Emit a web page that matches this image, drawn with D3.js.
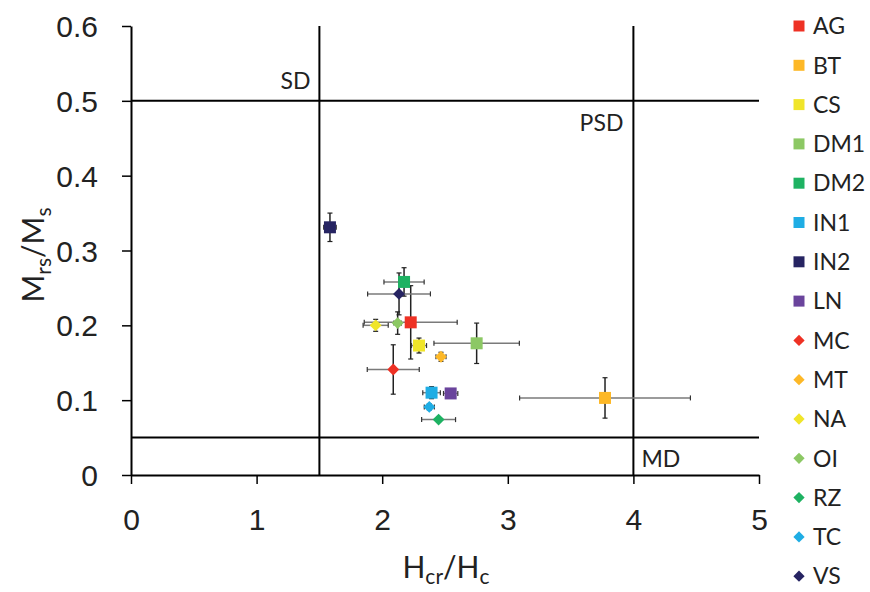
<!DOCTYPE html>
<html>
<head>
<meta charset="utf-8">
<script src="https://cdn.jsdelivr.net/npm/d3@7"></script>
<style>
  body { margin: 0; background: #fff; }
  svg { font-family: Lato, "Open Sans", sans-serif; }
</style>
</head>
<body>
<div id="chart"></div>
<script>
// samples, in legend order
const names   = ["AG", "BT", "CS", "DM1", "DM2", "IN1", "IN2", "LN", "MC", "MT", "NA", "OI", "RZ", "TC", "VS"];
const shapes  = ["square", "square", "square", "square", "square", "square", "square", "square",
                 "diamond", "diamond", "diamond", "diamond", "diamond", "diamond", "diamond"];
const colors  = ["#ee3124", "#fdb827", "#f0e52a", "#8cc864", "#1eb262", "#1fade4", "#262462", "#6a449c",
                 "#ee3124", "#fdb827", "#f0e52a", "#8cc864", "#1eb262", "#1fade4", "#262462"];
const hcrHc   = [2.227, 3.774, 2.293, 2.752, 2.174, 2.393, 1.584, 2.545, 2.088, 2.468, 1.948, 2.123, 2.449, 2.375, 2.134];
const mrsMs   = [0.204, 0.103, 0.173, 0.176, 0.258, 0.110, 0.331, 0.109, 0.141, 0.158, 0.200, 0.203, 0.074, 0.091, 0.242];
const hcrErr  = [0.37, 0.68, 0.06, 0.34, 0.16, 0.07, 0.05, 0.057, 0.207, 0.04, 0.10, 0.03, 0.135, 0.04, 0.25];
const mrsErr  = [0.049, 0.027, 0.010, 0.027, 0.019, 0.008, 0.019, 0.004, 0.033, 0.006, 0.008, 0.015, 0.003, 0.004, 0.028];

const xTicks = [0, 1, 2, 3, 4, 5];
const yTicks = [0, 0.1, 0.2, 0.3, 0.4, 0.5, 0.6];

// Day-plot domain boundaries
const vLines = [1.5, 4];
const hLines = [0.05, 0.5];
const zones = [
  { label: "SD",  x: 1.5, y: 0.5,  anchor: "end",   dx: -9, dy: -12 },
  { label: "PSD", x: 4,   y: 0.5,  anchor: "end",   dx: -10, dy: 30 },
  { label: "MD",  x: 4,   y: 0.05, anchor: "start", dx: 8,  dy: 29 }
];

const data = names.map((n, i) => ({
  name: n, shape: shapes[i], color: colors[i],
  x: hcrHc[i], y: mrsMs[i], ex: hcrErr[i], ey: mrsErr[i]
}));

const svg = d3.select("#chart").append("svg")
  .attr("width", 870)
  .attr("height", 592);

const x = d3.scaleLinear().domain([0, 5]).range([131, 759]);
const y = d3.scaleLinear().domain([0, 0.6]).range([475, 26]);

// axes
const yAxis = svg.append("g")
  .attr("transform", `translate(${x(0)},0)`)
  .call(d3.axisLeft(y).tickValues(yTicks).tickFormat(d => d === 0 ? "0" : d3.format(".1f")(d))
    .tickSize(9).tickSizeOuter(0).tickPadding(24));

const xAxis = svg.append("g")
  .attr("transform", `translate(0,${y(0)})`)
  .call(d3.axisBottom(x).tickValues(xTicks).tickFormat(d3.format("d"))
    .tickSize(9).tickSizeOuter(0).tickPadding(25));

[xAxis, yAxis].forEach(g => {
  g.select(".domain").attr("stroke", "#000").attr("stroke-width", 2);
  g.selectAll(".tick line").attr("stroke", "#000").attr("stroke-width", 1.5);
  g.selectAll(".tick text").attr("fill", "#222").style("font-size", "30px");
});
yAxis.selectAll(".tick text").attr("dy", "0.35em");

// boundary lines
svg.selectAll(".vline").data(vLines).enter().append("line")
  .attr("x1", d => x(d)).attr("x2", d => x(d))
  .attr("y1", y(0.6)).attr("y2", y(0))
  .attr("stroke", "#000").attr("stroke-width", 2);

svg.selectAll(".hline").data(hLines).enter().append("line")
  .attr("x1", x(0)).attr("x2", x(5))
  .attr("y1", d => y(d)).attr("y2", d => y(d))
  .attr("stroke", "#000").attr("stroke-width", 2);

svg.selectAll(".zone").data(zones).enter().append("text")
  .attr("x", d => x(d.x) + d.dx)
  .attr("y", d => y(d.y) + d.dy)
  .attr("text-anchor", d => d.anchor)
  .style("font-size", "23px")
  .attr("fill", "#222")
  .text(d => d.label);

// error bars
const cap = 2.5;
const eb = svg.append("g");
data.forEach(d => {
  const cx = x(d.x), cy = y(d.y);
  const x0 = x(d.x - d.ex), x1 = x(d.x + d.ex);
  const y0 = y(d.y - d.ey), y1 = y(d.y + d.ey);
  const g = eb.append("g");
  g.append("line").attr("x1", x0).attr("x2", x1).attr("y1", cy).attr("y2", cy)
    .attr("stroke", "#7a7a7a").attr("stroke-width", 1.5);
  [x0, x1].forEach(v => g.append("line").attr("x1", v).attr("x2", v)
    .attr("y1", cy - cap).attr("y2", cy + cap).attr("stroke", "#333").attr("stroke-width", 1.2));
  g.append("line").attr("x1", cx).attr("x2", cx).attr("y1", y0).attr("y2", y1)
    .attr("stroke", "#222").attr("stroke-width", 1.5);
  [y0, y1].forEach(v => g.append("line").attr("y1", v).attr("y2", v)
    .attr("x1", cx - cap).attr("x2", cx + cap).attr("stroke", "#222").attr("stroke-width", 1.2));
});

// markers
const symSquare = d3.symbol().type(d3.symbolSquare);
const markPath = (shape, size) => shape === "square"
  ? symSquare.size(size * size)()
  : d3.symbol().type(d3.symbolDiamond2).size(size * size)();

svg.append("g").selectAll("path").data(data).enter().append("path")
  .attr("d", d => markPath(d.shape, d.shape === "square" ? 12 : 9.5))
  .attr("transform", d => `translate(${x(d.x)},${y(d.y)})`)
  .attr("fill", d => d.color);

// legend
const legend = svg.append("g").attr("transform", "translate(799,26)");
const item = legend.selectAll("g").data(data).enter().append("g")
  .attr("transform", (d, i) => `translate(0,${i * 39.3})`);
item.append("path")
  .attr("d", d => markPath(d.shape, d.shape === "square" ? 11 : 9))
  .attr("fill", d => d.color);
item.append("text")
  .attr("x", 14).attr("dy", "0.36em")
  .style("font-size", "23px").attr("fill", "#222")
  .text(d => d.name);

// axis titles
const xt = svg.append("text")
  .attr("x", 446).attr("y", 578)
  .attr("text-anchor", "middle")
  .style("font-size", "30px").attr("fill", "#222");
xt.append("tspan").text("H");
xt.append("tspan").attr("dy", 6).style("font-size", "21px").text("cr");
xt.append("tspan").attr("dy", -6).text("/H");
xt.append("tspan").attr("dy", 6).style("font-size", "21px").text("c");

const yt = svg.append("text")
  .attr("transform", "translate(44,255) rotate(-90)")
  .attr("text-anchor", "middle")
  .style("font-size", "30px").attr("fill", "#222");
yt.append("tspan").text("M");
yt.append("tspan").attr("dy", 7).style("font-size", "21px").text("rs");
yt.append("tspan").attr("dy", -7).text("/M");
yt.append("tspan").attr("dy", 7).style("font-size", "21px").text("s");
</script>
</body>
</html>
